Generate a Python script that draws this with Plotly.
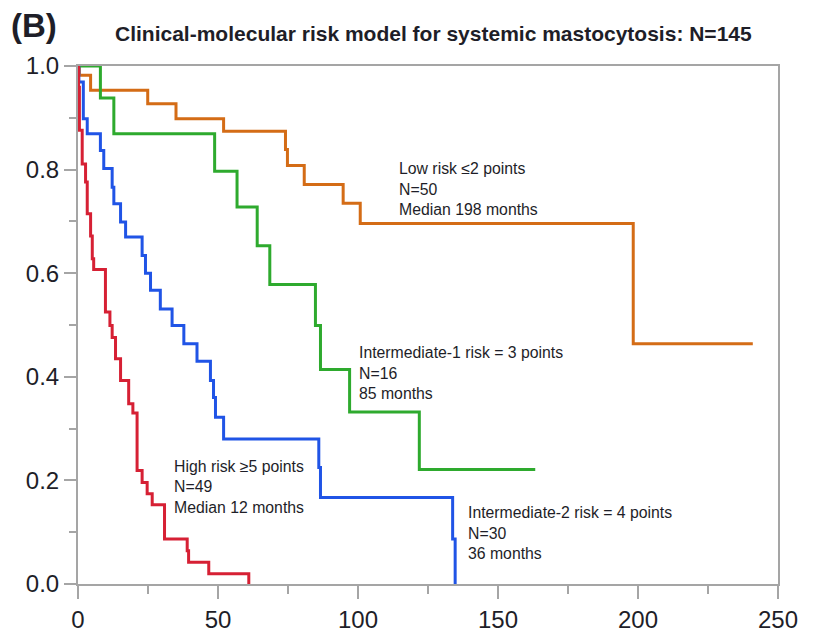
import plotly.graph_objects as go

# ---- data (months, survival probability) ----
low_t = [0, 0.5, 4.5, 24.9, 35.0, 52.0, 74.1, 74.8, 80.8, 94.7, 100.8, 198.3, 241.0]
low_s = [1.0, 0.982, 0.953, 0.927, 0.898, 0.874, 0.839, 0.808, 0.771, 0.735, 0.696, 0.464, 0.464]

int1_t = [0, 8.0, 12.8, 48.8, 56.8, 64.0, 68.5, 84.8, 86.6, 97.0, 121.9, 163.3]
int1_s = [1.0, 0.938, 0.869, 0.797, 0.728, 0.653, 0.578, 0.499, 0.414, 0.332, 0.221, 0.221]

int2_t = [0, 0.3, 1.9, 3.3, 8.0, 9.2, 12.2, 12.8, 15.2, 17.0, 22.9, 24.1, 25.9, 29.4,
          33.6, 37.8, 42.5, 47.3, 48.4, 49.1, 52.0, 86.0, 86.6, 133.8, 134.7]
int2_s = [1.0, 0.969, 0.898, 0.869, 0.837, 0.802, 0.766, 0.734, 0.699, 0.670, 0.634, 0.600,
          0.567, 0.531, 0.499, 0.464, 0.430, 0.393, 0.360, 0.322, 0.280, 0.225, 0.167, 0.087, 0.0]

high_t = [0, 0.2, 0.5, 1.5, 2.7, 3.3, 4.5, 5.1, 5.6, 9.8, 11.4, 12.2, 13.4, 15.2, 18.1,
          19.6, 21.1, 22.9, 24.7, 26.5, 30.9, 39.0, 39.5, 46.7, 61.0]
high_s = [1.0, 0.959, 0.876, 0.811, 0.776, 0.715, 0.672, 0.628, 0.607, 0.525, 0.499, 0.476,
          0.435, 0.393, 0.348, 0.330, 0.219, 0.196, 0.174, 0.153, 0.087, 0.064, 0.042, 0.020, 0.0]

x_ticks = [0, 50, 100, 150, 200, 250]
y_ticks = [0.0, 0.2, 0.4, 0.6, 0.8, 1.0]
y_tick_labels = ["0.0", "0.2", "0.4", "0.6", "0.8", "1.0"]

# label text blocks: (x, first-line y, lines)
labels = [
    (113.8, 0.802, ["Low risk \u22642 points", "N=50", "Median 198 months"]),
    (99.7, 0.446, ["Intermediate-1 risk = 3 points", "N=16", "85 months"]),
    (33.5, 0.227, ["High risk \u22655 points", "N=49", "Median 12 months"]),
    (138.6, 0.138, ["Intermediate-2 risk = 4 points", "N=30", "36 months"]),
]

title_text = "Clinical-molecular risk model for systemic mastocytosis: N=145"
panel_text = "(B)"

# ---- figure ----
ORANGE = "rgb(212,108,22)"
GREEN = "rgb(46,170,46)"
BLUE = "rgb(32,84,230)"
RED = "rgb(214,32,52)"
AXIS = "rgb(165,165,165)"
TXT = "rgb(30,30,40)"

fig = go.Figure()
for t, s, c in [(low_t, low_s, ORANGE), (int1_t, int1_s, GREEN),
                (int2_t, int2_s, BLUE), (high_t, high_s, RED)]:
    fig.add_trace(go.Scatter(x=t, y=s, mode="lines", line=dict(color=c, width=3, shape="hv"),
                             showlegend=False, hoverinfo="skip"))

LINE_H = 20.5
for x, y, lines in labels:
    for i, ln in enumerate(lines):
        fig.add_annotation(x=x, y=y, xref="x", yref="y", text=ln, showarrow=False,
                           xanchor="left", yanchor="middle", yshift=-LINE_H * i,
                           font=dict(family="Liberation Sans, Arial", size=15.8, color=TXT))

# page offsets: plot area on page x 77.5..778, y 65.7..583.3 ; body margin 8px
PX0, PX1, PY0, PY1 = 77.5, 778.0, 65.7, 583.3
def px(xp):
    return (xp - PX0) / (PX1 - PX0)
def py(yp):
    return (PY1 - yp) / (PY1 - PY0)

fig.add_annotation(x=px(113), y=py(33), xref="paper", yref="paper",
                   text="<b>" + title_text + "</b>", showarrow=False, xanchor="left", yanchor="middle",
                   font=dict(family="Liberation Sans Narrow, Liberation Sans, Arial", size=21, color=TXT))
fig.add_annotation(x=px(8), y=py(25), xref="paper", yref="paper",
                   text="<b>" + panel_text + "</b>", showarrow=False, xanchor="left", yanchor="middle",
                   font=dict(family="Liberation Sans Narrow, Liberation Sans, Arial", size=33, color=TXT))

fig.update_layout(
    width=817, height=638,
    margin=dict(l=70, r=47, t=58, b=62),
    paper_bgcolor="white", plot_bgcolor="white",
    showlegend=False,
)
fig.update_xaxes(range=[0, 250], tickvals=x_ticks, ticks="outside", ticklen=13, tickwidth=2,
                 tickcolor=AXIS, showline=True, linecolor=AXIS, linewidth=2, mirror=True,
                 showgrid=False, zeroline=False,
                 tickfont=dict(family="Liberation Sans, Arial", size=24, color=TXT),
                 minor=dict(dtick=25, ticks="outside", ticklen=8, tickwidth=2, tickcolor=AXIS, showgrid=False))
fig.update_yaxes(range=[0, 1], tickvals=y_ticks, ticktext=y_tick_labels, ticks="outside", ticklen=12,
                 tickwidth=2, tickcolor=AXIS, showline=True, linecolor=AXIS, linewidth=2, mirror=True,
                 showgrid=False, zeroline=False,
                 tickfont=dict(family="Liberation Sans, Arial", size=24, color=TXT),
                 minor=dict(dtick=0.1, ticks="outside", ticklen=7, tickwidth=2, tickcolor=AXIS, showgrid=False))

fig.write_html("out.html")
